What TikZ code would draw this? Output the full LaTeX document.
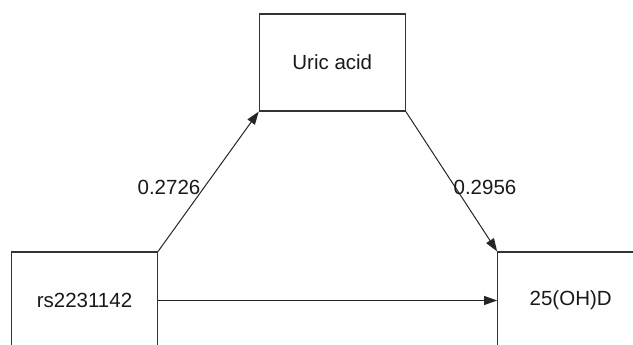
\documentclass[tikz,border=0pt]{standalone}
\usepackage{fontspec}
\setmainfont{Liberation Sans}
\usetikzlibrary{arrows.meta}
\begin{document}
\begin{tikzpicture}[x=1pt,y=-1pt,
  varbox/.style={draw=black!80, line width=1.1pt, minimum width=146pt, minimum height=97pt,
                 inner sep=0pt, font=\fontsize{20.5}{24}\selectfont, text=black!90},
  path/.style={draw=black!85, line width=1pt, -{Triangle[length=13pt,width=9pt]}},
  coef/.style={font=\fontsize{20.5}{24}\selectfont, text=black!90, inner sep=0pt}]
  \clip (0,0) rectangle (633,345);
  \fill[white] (0,0) rectangle (633,345);
  % variables
  \node[varbox] (ua) at (332.3,62.5) {Uric acid};
  \node[varbox] (rs) at (84.5,300.5) {rs2231142};
  \node[varbox] (vd) at (570.7,300.5) {25(OH)D};
  % paths
  \draw[path] (rs.north east) -- (ua.south west);
  \draw[path] (ua.south east) -- (vd.north west);
  \draw[path] (rs.east) -- (vd.west);
  % coefficients
  \node[coef] (a) at (169,187) {0.2726};
  \node[coef] (b) at (485,187) {0.2956};
\end{tikzpicture}
\end{document}
